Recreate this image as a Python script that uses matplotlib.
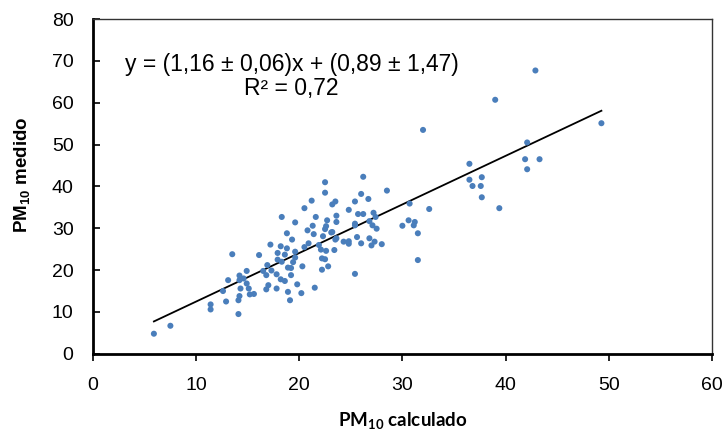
import numpy as np
import matplotlib.pyplot as plt

plt.rcParams['font.family'] = ['Liberation Sans', 'DejaVu Sans']
plt.rcParams['mathtext.default'] = 'regular'

# PM10 calculado (x) / PM10 medido (y)
pm_calc = [5.9, 7.5, 11.4, 11.4, 12.9, 13.5, 12.6, 13.1, 14.1, 14.1, 14.2, 14.2, 14.2, 14.3,
           14.6, 14.9, 14.9, 15.1, 15.2, 15.6, 16.1, 16.5, 16.8, 16.9, 17.2, 16.8, 17.0,
           22.5, 26.2, 22.5, 28.5, 26.0, 21.2, 23.2, 23.5, 20.5, 25.4, 26.7, 30.7, 24.8,
           25.7, 26.2, 27.2, 27.4, 18.3, 21.6, 23.6, 22.7, 23.6, 19.6, 21.3, 22.6, 25.4,
           26.8, 27.1, 27.5, 20.8, 22.5, 23.2, 18.8, 21.4, 22.3, 23.6, 25.6, 26.8, 19.3,
           24.3, 24.8, 26.0, 27.3, 27.0, 28.0, 24.8, 30.0, 30.6, 31.2, 31.1, 31.5, 31.5,
           32.6, 18.2, 18.8, 20.5, 20.9, 21.9, 22.1, 22.6, 23.4, 17.9, 18.6, 19.6, 19.6,
           17.9, 18.3, 19.4, 18.9, 19.2, 20.3, 22.2, 22.5, 22.8, 22.2, 17.3, 17.8, 18.2,
           18.6, 19.2, 17.8, 19.8, 18.9, 20.2, 21.5, 19.1, 25.4, 23.1, 23.5, 25.4,
           32.0, 39.0, 36.5, 36.5, 36.8, 37.7, 37.6, 37.7, 39.4, 42.1, 41.9, 42.1, 42.9,
           43.3, 49.3]
pm_med = [4.8, 6.7, 11.8, 10.6, 12.5, 23.8, 15.0, 17.6, 12.8, 9.5, 13.8, 18.7, 17.6, 15.6,
          18.0, 19.8, 16.8, 15.6, 14.2, 14.3, 23.6, 19.8, 18.8, 21.2, 26.1, 15.4, 16.4,
          41.0, 42.3, 38.5, 39.0, 38.2, 36.6, 35.7, 36.4, 34.8, 36.4, 37.0, 35.9, 34.4,
          33.4, 33.4, 33.7, 32.7, 32.7, 32.7, 33.0, 31.9, 31.5, 31.4, 30.6, 30.5, 30.7,
          31.7, 30.7, 29.9, 29.5, 29.8, 29.1, 28.8, 28.6, 28.1, 27.6, 27.9, 27.6, 27.3,
          26.8, 26.9, 26.4, 26.8, 25.9, 26.2, 26.3, 30.6, 31.9, 31.5, 30.7, 28.8, 22.4,
          34.6, 25.7, 25.2, 25.5, 26.4, 26.0, 24.9, 24.6, 24.8, 24.1, 23.7, 24.4, 23.0,
          22.5, 22.0, 21.9, 20.6, 20.5, 20.9, 22.8, 22.6, 20.9, 20.1, 19.9, 19.0, 17.8,
          17.4, 18.8, 15.6, 16.6, 14.8, 14.5, 15.8, 12.8, 19.1, 29.0, 27.3, 31.1,
          53.5, 60.7, 45.4, 41.6, 40.1, 42.2, 40.1, 37.4, 34.8, 50.5, 46.5, 44.1, 67.7,
          46.5, 55.1]

# recta de ajuste y = a*x + b
pendiente = 1.16
ordenada = 0.89

fig = plt.figure(figsize=(7.27, 4.32), dpi=100)
ax = fig.add_axes([0.128, 0.181, 0.851, 0.775])

ax.scatter(pm_calc, pm_med, s=19, color='#4a7ebb', edgecolors='none', zorder=3)

xl = np.array([min(pm_calc), max(pm_calc)])
ax.plot(xl, pendiente * xl + ordenada, color='black', lw=1.3, zorder=2)

ax.set_xlim(0, 60)
ax.set_ylim(0, 80)
ax.set_xticks(range(0, 61, 10))
ax.set_yticks(range(0, 81, 10))
ax.tick_params(axis='x', direction='out', length=5, width=1.2, pad=12, labelsize=14)
ax.tick_params(axis='y', direction='in', length=5, width=1.2, pad=14, labelsize=14)

for s in ['left', 'bottom']:
    ax.spines[s].set_linewidth(2)
for s in ['top', 'right']:
    ax.spines[s].set_linewidth(1)
    ax.spines[s].set_color('#333333')

ax.set_xlabel('PM$_{10}$ calculado', fontsize=13.5, fontweight='bold', family='Lato', labelpad=11)
ax.set_ylabel('PM$_{10}$ medido', fontsize=13.5, fontweight='bold')
ax.yaxis.set_label_coords(-0.098, 0.535)

ax.text(0.321, 0.828, 'y = (1,16 ± 0,06)x + (0,89 ± 1,47)\nR² = 0,72', transform=ax.transAxes,
        ha='center', va='center', fontsize=16.5, linespacing=1.1)

fig.savefig('out.png', dpi=100)
